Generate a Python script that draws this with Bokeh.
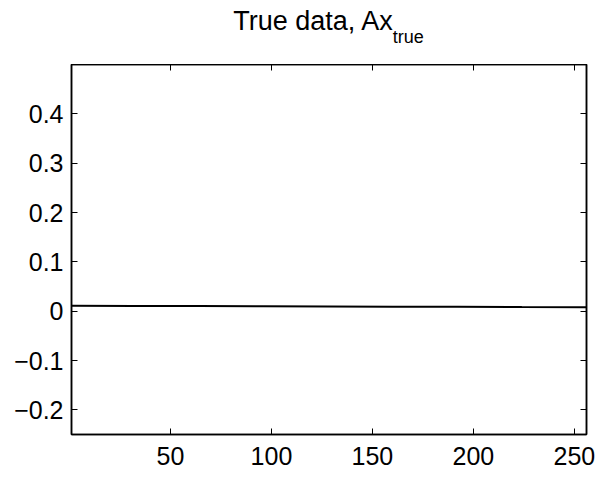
from bokeh.plotting import figure
from bokeh.models import Range1d, FixedTicker, LinearAxis, Div
from bokeh.layouts import column
from bokeh.embed import file_html
from bokeh.resources import INLINE

# data
x_vals = [1, 32, 64, 96, 128, 160, 192, 224, 256]
y_vals = [0.0110, 0.0107, 0.0103, 0.0099, 0.0095, 0.0091, 0.0087, 0.0083, 0.0080]
x_ticks = [50, 100, 150, 200, 250]
y_ticks = [-0.2, -0.1, 0.0, 0.1, 0.2, 0.3, 0.4]
y_tick_labels = ["\u22120.2", "\u22120.1", "0", "0.1", "0.2", "0.3", "0.4"]
title_main = "True data, Ax"
title_sub = "true"

FONT = "Liberation Sans"

p = figure(width=600, height=413, output_backend="svg", toolbar_location=None,
           x_range=Range1d(1, 256), y_range=Range1d(-0.25, 0.5),
           min_border_left=71, min_border_right=14, min_border_top=0, min_border_bottom=43,
           x_axis_location=None, y_axis_location=None)
p.grid.visible = False
p.outline_line_color = "black"
p.outline_line_width = 1.5
p.background_fill_color = "white"
p.border_fill_color = "white"

p.line(x_vals, y_vals, line_color="black", line_width=2)

def make_axis(ticks, overrides=None, labels=True):
    ax = LinearAxis(ticker=FixedTicker(ticks=ticks))
    ax.major_tick_in = 6
    ax.major_tick_out = 0
    ax.minor_tick_line_color = None
    ax.axis_line_color = "black"
    ax.axis_line_width = 1.5
    ax.major_tick_line_color = "black"
    ax.major_tick_line_width = 1
    ax.major_label_text_font = FONT
    ax.major_label_text_color = "black"
    if labels:
        ax.major_label_text_font_size = "25px"
        if overrides:
            ax.major_label_overrides = overrides
    else:
        ax.major_label_overrides = {t: "" for t in ticks}
        ax.major_label_text_font_size = "1px"
        ax.major_label_standoff = 0
    return ax

bottom = make_axis(x_ticks)
bottom.major_label_standoff = 12
left = make_axis(y_ticks, {t: l for t, l in zip(y_ticks, y_tick_labels)})
left.major_label_standoff = 8
top = make_axis(x_ticks, labels=False)
right = make_axis(y_ticks, labels=False)
p.add_layout(bottom, "below")
p.add_layout(left, "left")
p.add_layout(top, "above")
p.add_layout(right, "right")

title_html = (
    f'<div style="width:515px; margin-left:71px; margin-top:8px; text-align:center; '
    f'font-family:\'{FONT}\'; font-size:27px; line-height:1; color:black; white-space:nowrap">'
    f'{title_main}<span style="font-size:18px; vertical-align:-13px">{title_sub}</span></div>'
)
title = Div(text=title_html, width=600, height=64,
            styles={"margin": "0", "padding": "0", "background": "white"})

layout = column(title, p, spacing=0)
open("out.html", "w").write(file_html(layout, INLINE))
